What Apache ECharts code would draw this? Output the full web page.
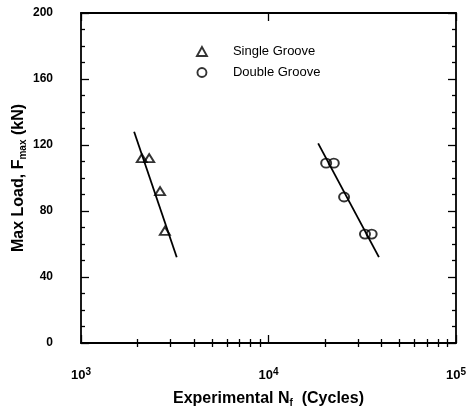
<!DOCTYPE html>
<html>
<head>
<meta charset="utf-8">
<script src="https://cdn.jsdelivr.net/npm/echarts@6/dist/echarts.min.js"></script>
<style>
  html, body { margin: 0; padding: 0; background: #fff; }
  #chart { width: 469px; height: 412px; }
</style>
</head>
<body>
<div id="chart"></div>
<script>
// Fatigue life data: max load (kN) vs experimental cycles to failure
const singleGroove = [[2110, 112], [2310, 112], [2640, 92], [2800, 68]];
const doubleGroove = [[20300, 109], [22300, 109], [25300, 88.5], [32700, 66], [35500, 66]];
// Fitted trend lines (end points)
const singleFit = [[1920, 128], [3240, 52]];
const doubleFit = [[18400, 121], [38800, 52]];

// Axis ticks
const xMajorTicks = [1000, 10000, 100000];
const xMinorTicks = [2000, 3000, 4000, 5000, 6000, 7000, 8000, 9000,
                     20000, 30000, 40000, 50000, 60000, 70000, 80000, 90000];
const yMin = 0, yMax = 200, yStep = 40;

const FONT = 'Liberation Sans, Arial, Helvetica, sans-serif';
const BLACK = '#000';

const chart = echarts.init(document.getElementById('chart'), null, { renderer: 'canvas' });

function logAxis(position, opts) {
  return Object.assign({
    type: 'log', logBase: 10, min: 1000, max: 100000, position: position,
    gridIndex: 0,
    axisLine: { show: false },
    axisTick: { show: false },
    axisLabel: { show: false },
    splitLine: { show: false },
    minorTick: { show: false },
    minorSplitLine: { show: false }
  }, opts);
}

const hollow = { color: 'rgba(0,0,0,0)', borderColor: BLACK, borderWidth: 1.9 };

const option = {
  backgroundColor: '#fff',
  animation: false,
  grid: { left: 81, right: 13, top: 13, bottom: 69, containLabel: false, outerBoundsMode: 'none' },
  legend: {
    orient: 'vertical',
    left: 191, top: 40,
    itemWidth: 10, itemHeight: 9, itemGap: 8,
    selectedMode: false,
    textStyle: { fontFamily: FONT, fontSize: 13, color: BLACK, padding: [0, 0, 0, 21] },
    data: [
      { name: 'Single Groove', icon: 'triangle', itemStyle: hollow },
      { name: 'Double Groove', icon: 'circle', itemStyle: hollow }
    ]
  },
  xAxis: [
    // bottom axis with decade labels
    logAxis('bottom', {
      axisLine: { show: true, onZero: false, lineStyle: { color: BLACK, width: 1.8 } },
      axisTick: { show: true, inside: true, length: 8, customValues: xMajorTicks,
                  lineStyle: { color: BLACK, width: 1.3 } },
      axisLabel: {
        show: true, margin: 24, customValues: xMajorTicks,
        formatter: function (v) {
          return '{b|10}{s|' + Math.round(Math.log10(v)) + '}';
        },
        rich: {
          b: { fontFamily: FONT, fontSize: 13, fontWeight: 'bold', color: BLACK, lineHeight: 17 },
          s: { fontFamily: FONT, fontSize: 10, fontWeight: 'bold', color: BLACK, verticalAlign: 'top', lineHeight: 17 }
        }
      },
      name: '{t|Experimental N}{sub|f}{t|  (Cycles)}',
      nameLocation: 'middle', nameGap: 46,
      nameTextStyle: {
        rich: {
          t: { fontFamily: FONT, fontSize: 16, fontWeight: 'bold', color: BLACK, lineHeight: 19 },
          sub: { fontFamily: FONT, fontSize: 10, fontWeight: 'bold', color: BLACK, verticalAlign: 'bottom', lineHeight: 15 }
        }
      }
    }),
    // bottom minor ticks
    logAxis('bottom', {
      axisTick: { show: true, inside: true, length: 4, customValues: xMinorTicks,
                  lineStyle: { color: BLACK, width: 1.3 } }
    }),
    // top frame with major ticks
    logAxis('top', {
      axisLine: { show: true, onZero: false, lineStyle: { color: BLACK, width: 1.8 } },
      axisTick: { show: true, inside: true, length: 8, customValues: xMajorTicks,
                  lineStyle: { color: BLACK, width: 1.3 } }
    }),
    // top minor ticks
    logAxis('top', {
      axisTick: { show: true, inside: true, length: 4, customValues: xMinorTicks,
                  lineStyle: { color: BLACK, width: 1.3 } }
    })
  ],
  yAxis: [
    {
      type: 'value', min: yMin, max: yMax, interval: yStep, position: 'left',
      axisLine: { show: true, onZero: false, lineStyle: { color: BLACK, width: 1.8 } },
      axisTick: { show: true, inside: true, length: 8, lineStyle: { color: BLACK, width: 1.3 } },
      minorTick: { show: true, splitNumber: 4, length: 4, lineStyle: { color: BLACK, width: 1.3 } },
      splitLine: { show: false },
      axisLabel: { margin: 28, fontFamily: FONT, fontSize: 12, fontWeight: 'bold', color: BLACK },
      name: '{t|Max Load, F}{sub|max}{t| (kN)}',
      nameLocation: 'middle', nameGap: 53, nameRotate: 90, nameMoveOverlap: false,
      nameTextStyle: {
        rich: {
          t: { fontFamily: FONT, fontSize: 16, fontWeight: 'bold', color: BLACK, lineHeight: 19 },
          sub: { fontFamily: FONT, fontSize: 10, fontWeight: 'bold', color: BLACK, verticalAlign: 'bottom', lineHeight: 15 }
        }
      }
    },
    {
      type: 'value', min: yMin, max: yMax, interval: yStep, position: 'right',
      axisLine: { show: true, onZero: false, lineStyle: { color: BLACK, width: 1.8 } },
      axisTick: { show: true, inside: true, length: 8, lineStyle: { color: BLACK, width: 1.3 } },
      minorTick: { show: true, splitNumber: 4, length: 4, lineStyle: { color: BLACK, width: 1.3 } },
      splitLine: { show: false },
      axisLabel: { show: false }
    }
  ],
  series: [
    {
      name: 'Single Groove', type: 'scatter', data: singleGroove,
      symbol: 'triangle', symbolSize: [10, 8], z: 3, itemStyle: hollow
    },
    {
      name: 'Double Groove', type: 'scatter', data: doubleGroove,
      symbol: 'circle', symbolSize: [10, 9], z: 3, itemStyle: hollow
    },
    {
      name: 'Single fit', type: 'line', data: singleFit, symbol: 'none', z: 2,
      lineStyle: { color: BLACK, width: 1.8 }, silent: true
    },
    {
      name: 'Double fit', type: 'line', data: doubleFit, symbol: 'none', z: 2,
      lineStyle: { color: BLACK, width: 1.8 }, silent: true
    }
  ]
};

chart.setOption(option);
</script>
</body>
</html>
